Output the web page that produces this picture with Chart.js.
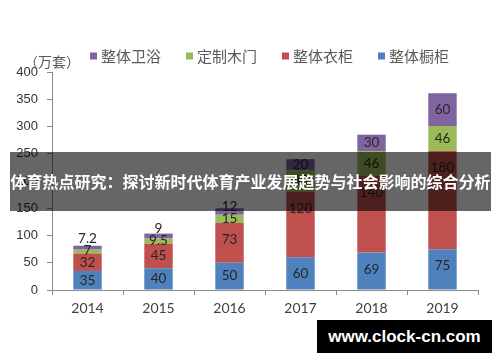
<!DOCTYPE html>
<html><head><meta charset="utf-8">
<script src="https://cdn.jsdelivr.net/npm/chart.js@4"></script>
<style>
html,body{margin:0;padding:0;background:#fff;}
#wrap{position:relative;width:500px;height:362px;overflow:hidden;background:#fff;}
#c{position:absolute;left:0;top:0;}
#banner{position:absolute;left:10px;top:152px;width:481px;height:59px;background:rgba(0,0,0,0.6);color:#fff;font:bold 16px "Noto Sans CJK SC";line-height:59px;text-align:center;white-space:nowrap;letter-spacing:0;}
#wm{position:absolute;left:317px;top:320px;width:175px;height:33px;background:#000;color:#fff;font:bold 17px "Liberation Sans";line-height:33px;text-align:center;white-space:nowrap;}
</style></head>
<body><div id="wrap"><canvas id="c" width="500" height="362" style="width:500px;height:362px"></canvas>
<div id="banner">体育热点研究：探讨新时代体育产业发展趋势与社会影响的综合分析</div>
<div id="wm">www.clock-cn.com</div></div>
<script>
const years = ['2014','2015','2016','2017','2018','2019'];
const cabinet = [35, 40, 50, 60, 69, 75];      // 整体橱柜
const wardrobe = [32, 45, 73, 120, 140, 180];  // 整体衣柜
const door = [7, 9.5, 15, 40, 46, 46];         // 定制木门
const bath = [7.2, 9, 12, 20, 30, 60];         // 整体卫浴
const yTicks = [0, 50, 100, 150, 200, 250, 300, 350, 400];
const unitLabel = '（万套）';

const segLabels = {
  id: 'segLabels',
  afterDatasetsDraw(chart) {
    const ctx = chart.ctx;
    ctx.save();
    ctx.font = '13.5px Lato';
    ctx.fillStyle = '#262626';
    ctx.textAlign = 'center';
    ctx.textBaseline = 'middle';
    chart.data.labels.forEach((_, i) => {
      let prev = Infinity;
      chart.data.datasets.forEach((ds, d) => {
        const bar = chart.getDatasetMeta(d).data[i];
        const h = bar.base - bar.y;
        let y = bar.y + Math.min(17, h / 2);
        if (y > prev - 12) y = prev - 12;
        prev = y;
        ctx.fillText(String(ds.data[i]), bar.x, y);
      });
    });
    ctx.restore();
  }
};

const topLegend = {
  id: 'topLegend',
  afterDraw(chart) {
    const ctx = chart.ctx;
    ctx.save();
    ctx.textBaseline = 'middle';
    ctx.font = '14px "Noto Sans CJK SC"';
    ctx.fillStyle = '#595959';
    ctx.fillText(unitLabel, 24, 62);
    ctx.font = '15px "Noto Sans CJK SC"';
    let x = 90; const y = 56;
    [...chart.data.datasets].reverse().forEach(ds => {
      ctx.fillStyle = ds.backgroundColor;
      ctx.fillRect(x, y - 3.5, 7, 7);
      ctx.fillStyle = '#595959';
      ctx.fillText(ds.label, x + 11, y);
      x += 11 + ctx.measureText(ds.label).width + 25;
    });
    ctx.restore();
  }
};

new Chart(document.getElementById('c'), {
  type: 'bar',
  data: {
    labels: years,
    datasets: [
      { label: '整体橱柜', data: cabinet, backgroundColor: '#4F81BD' },
      { label: '整体衣柜', data: wardrobe, backgroundColor: '#C0504D' },
      { label: '定制木门', data: door, backgroundColor: '#9BBB59' },
      { label: '整体卫浴', data: bath, backgroundColor: '#8064A2' }
    ]
  },
  options: {
    responsive: false,
    animation: false,
    devicePixelRatio: 1,
    layout: { padding: { left: 0, right: 22, top: 72, bottom: 0 } },
    datasets: { bar: { categoryPercentage: 1, barPercentage: 0.4 } },
    plugins: { legend: { display: false }, tooltip: { enabled: false } },
    scales: {
      x: {
        stacked: true,
        afterFit: s => { s.height = 72; },
        grid: { display: true, drawOnChartArea: false, drawTicks: true, tickLength: 5, color: '#8c8c8c', offset: true },
        border: { display: true, color: '#8c8c8c', width: 1 },
        ticks: { font: { family: 'Lato', size: 14 }, color: '#404040', padding: 5 }
      },
      y: {
        stacked: true,
        min: 0, max: 400,
        afterFit: s => { s.width = 52; },
        afterBuildTicks: s => { s.ticks = yTicks.map(v => ({ value: v })); },
        grid: { display: true, drawOnChartArea: false, drawTicks: true, tickLength: 5, color: '#8c8c8c' },
        border: { display: true, color: '#8c8c8c', width: 1 },
        ticks: { font: { family: 'Liberation Sans', size: 13 }, color: '#333333', padding: 9 }
      }
    }
  },
  plugins: [segLabels, topLegend]
});
</script>
</body></html>
